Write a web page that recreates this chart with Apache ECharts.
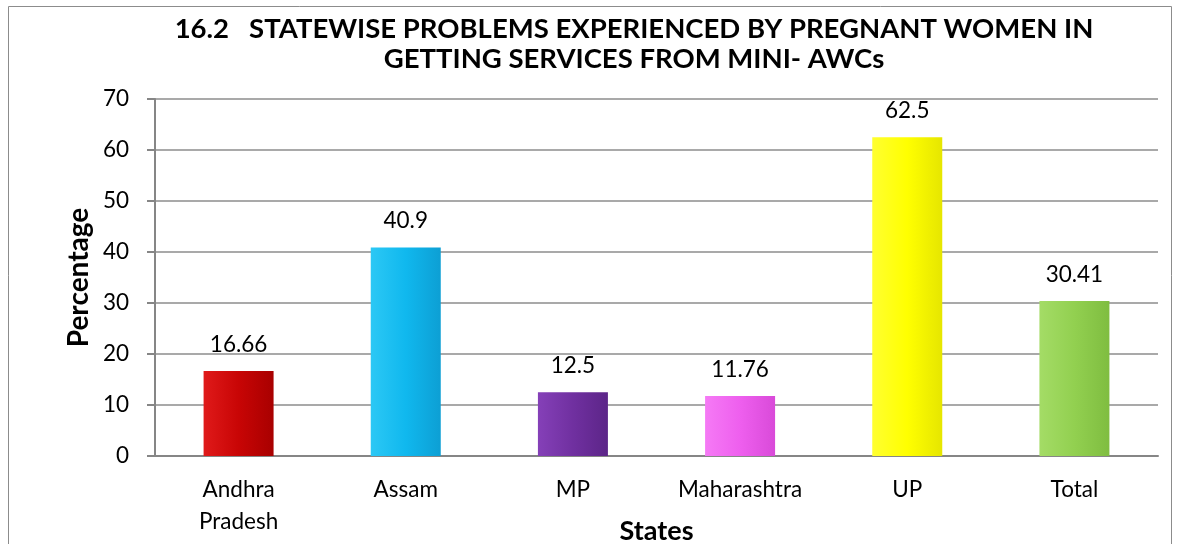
<!DOCTYPE html>
<html><head><meta charset="utf-8">
<script src="https://cdn.jsdelivr.net/npm/echarts@6/dist/echarts.min.js"></script>
<style>html,body{margin:0;padding:0;background:#fff}#c{width:1181px;height:544px}</style>
</head><body><div id="c"></div>
<script>
const categories = ['Andhra\nPradesh', 'Assam', 'MP', 'Maharashtra', 'UP', 'Total'];
const values = [16.66, 40.9, 12.5, 11.76, 62.5, 30.41];
const labels = ['16.66', '40.9', '12.5', '11.76', '62.5', '30.41'];
const barColors = [
  ['#e01a1a', '#c80505', '#a80000'],
  ['#2cc8f5', '#10b8ee', '#0d9fd4'],
  ['#8540b8', '#7030a0', '#5c2588'],
  ['#f57af5', '#ee5fee', '#d94ad9'],
  ['#ffff30', '#ffff00', '#e6e600'],
  ['#a4dc66', '#92d050', '#7fbd40']
];
const FONT = 'Lato, "Open Sans", sans-serif';
const chart = echarts.init(document.getElementById('c'));
chart.setOption({
  animation: false,
  title: {
    text: '16.2   STATEWISE PROBLEMS EXPERIENCED BY PREGNANT WOMEN IN\nGETTING SERVICES FROM MINI- AWCs',
    left: 629, top: 9, textAlign: 'center',
    textStyle: {fontFamily: FONT, fontWeight: 'bold', fontSize: 27.5, lineHeight: 30, color: '#000'}
  },
  graphic: [{type: 'rect', shape: {x: 8.5, y: 6.5, width: 1163, height: 560}, style: {fill: 'none', stroke: '#8c8c8c', lineWidth: 1}}],
  grid: {left: 155, right: 23, top: 99, bottom: 88, outerBoundsMode: 'none', containLabel: false},
  xAxis: {
    type: 'category', data: categories,
    axisLine: {lineStyle: {color: '#868686', width: 2}},
    axisTick: {show: false},
    axisLabel: {fontFamily: FONT, fontSize: 22.5, color: '#000', lineHeight: 32, margin: 18},
    name: 'States', nameLocation: 'middle', nameGap: 62, nameMoveOverlap: false,
    nameTextStyle: {fontFamily: FONT, fontWeight: 'bold', fontSize: 27, color: '#000'}
  },
  yAxis: {
    type: 'value', min: 0, max: 70, interval: 10,
    axisLine: {show: true, lineStyle: {color: '#868686', width: 2}},
    axisTick: {show: true, length: 8, lineStyle: {color: '#868686', width: 2}},
    splitLine: {lineStyle: {color: '#8c8c8c', width: 1.5}},
    axisLabel: {fontFamily: FONT, fontSize: 22.5, color: '#000', margin: 26},
    name: 'Percentage', nameLocation: 'middle', nameGap: 62, nameMoveOverlap: false,
    nameTextStyle: {fontFamily: FONT, fontWeight: 'bold', fontSize: 28, color: '#000'}
  },
  series: [{
    type: 'bar', barWidth: 70,
    data: values.map((v, i) => ({
      value: v,
      itemStyle: {color: new echarts.graphic.LinearGradient(0, 0, 1, 0, [
        {offset: 0, color: barColors[i][0]},
        {offset: 0.5, color: barColors[i][1]},
        {offset: 1, color: barColors[i][2]}
      ])}
    })),
    label: {show: true, position: 'top', distance: 15, formatter: p => labels[p.dataIndex],
      fontFamily: FONT, fontSize: 22.5, color: '#000'}
  }]
});
</script></body></html>
